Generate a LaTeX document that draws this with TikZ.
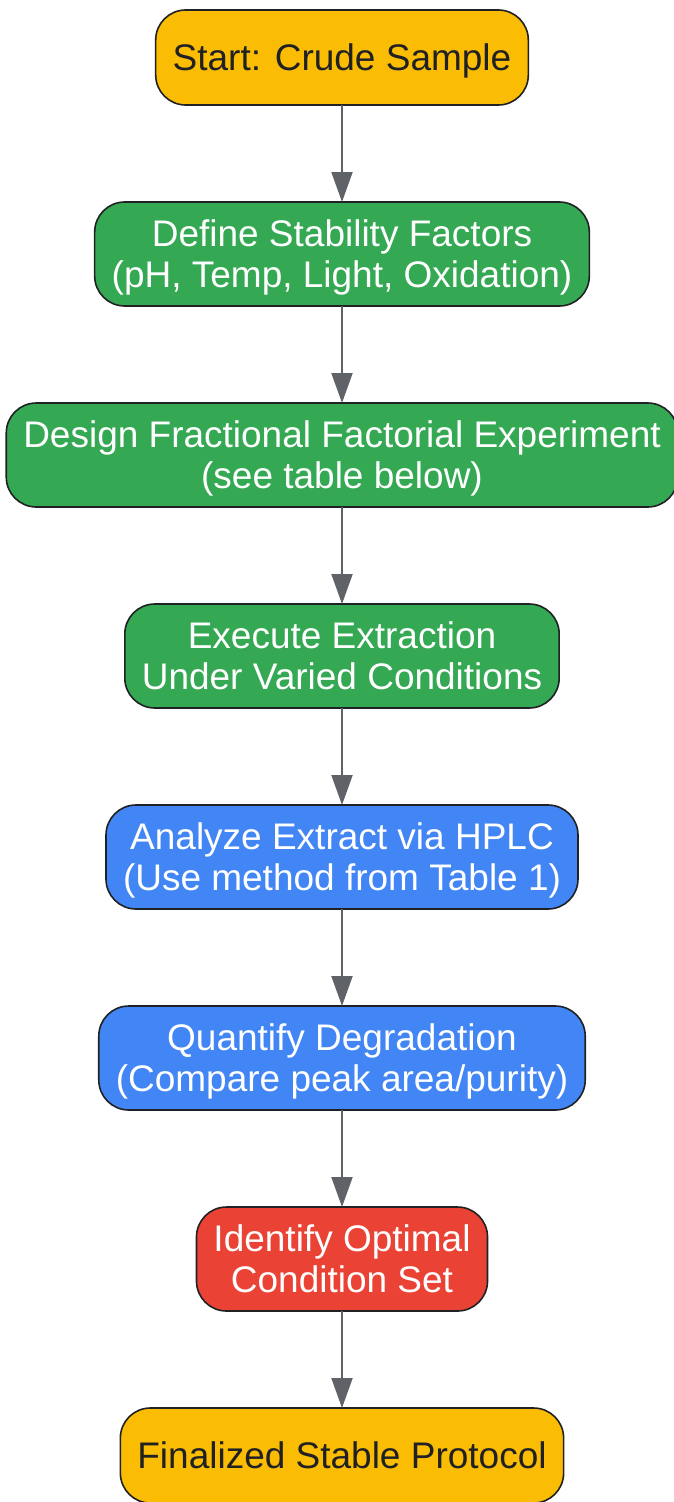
\documentclass[tikz,border=0pt]{standalone}
\usepackage{fontspec}
\setmainfont{Liberation Sans}
\usetikzlibrary{positioning,arrows.meta}
\definecolor{stepyellow}{HTML}{FBBC04}
\definecolor{stepgreen}{HTML}{34A853}
\definecolor{stepblue}{HTML}{4285F4}
\definecolor{stepred}{HTML}{EA4335}
\definecolor{edgegray}{HTML}{5F6368}
\definecolor{inkdark}{HTML}{202124}
\tikzset{
    flowbox/.style={draw=inkdark, line width=1.6pt, rounded corners=30pt,
        align=center, inner xsep=17pt, inner ysep=0pt, outer sep=0pt,
        minimum height=104pt, text depth=0pt,
        font=\fontsize{37}{41}\selectfont, text=white},
    endbox/.style={flowbox, fill=stepyellow, text=inkdark, minimum height=95pt},
    greenbox/.style={flowbox, fill=stepgreen},
    bluebox/.style={flowbox, fill=stepblue},
    redbox/.style={flowbox, fill=stepred},
    flowarrow/.style={draw=edgegray, line width=2pt,
        -{Triangle[width=21pt,length=30pt]}},
}
\begin{document}
\begin{tikzpicture}[x=1pt, y=1pt, node distance=97pt]
\useasboundingbox (0, 0) rectangle (673, -1502);

\node[endbox] (start) at (342, -57.5) {Start: Crude Sample};
\node[greenbox, below=of start] (factors) {Define Stability Factors\\(pH, Temp, Light, Oxidation)};
\node[greenbox, below=of factors] (design) {Design Fractional Factorial Experiment\\(see table below)};
\node[greenbox, below=of design] (execute) {Execute Extraction\\Under Varied Conditions};
\node[bluebox, below=of execute] (analyze) {Analyze Extract via HPLC\\(Use method from Table 1)};
\node[bluebox, below=of analyze] (quantify) {Quantify Degradation\\(Compare peak area/purity)};
\node[redbox, below=of quantify] (optimal) {Identify Optimal\\Condition Set};
\node[endbox, below=of optimal] (protocol) {Finalized Stable Protocol};

\foreach \a/\b in {start/factors, factors/design, design/execute,
    execute/analyze, analyze/quantify, quantify/optimal, optimal/protocol} {
    \draw[flowarrow] (\a) -- (\b);
}
\end{tikzpicture}
\end{document}
